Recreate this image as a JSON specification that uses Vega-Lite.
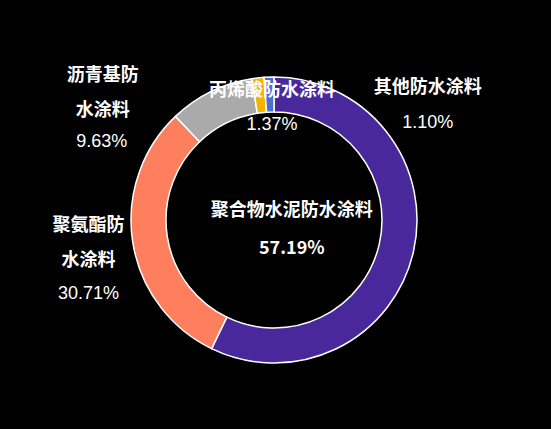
{
  "$schema": "https://vega.github.io/schema/vega-lite/v6.json",
  "width": 548,
  "height": 418,
  "padding": {"left": 0, "top": 11, "right": 3, "bottom": 0},
  "autosize": {"type": "none"},
  "background": "#000000",
  "view": {"stroke": null},
  "data": {
    "values": [
      {"name": "聚合物水泥防水涂料", "label": "聚合物水泥防水涂料", "pct": "57.19%", "value": 57.19, "order": 1},
      {"name": "聚氨酯防水涂料", "label": "聚氨酯防\n水涂料", "pct": "30.71%", "value": 30.71, "order": 2},
      {"name": "沥青基防水涂料", "label": "沥青基防\n水涂料", "pct": "9.63%", "value": 9.63, "order": 3},
      {"name": "丙烯酸防水涂料", "label": "丙烯酸防水涂料", "pct": "1.37%", "value": 1.37, "order": 4},
      {"name": "其他防水涂料", "label": "其他防水涂料", "pct": "1.10%", "value": 1.10, "order": 5}
    ]
  },
  "encoding": {
    "theta": {"field": "value", "type": "quantitative", "stack": true},
    "order": {"field": "order", "type": "quantitative"}
  },
  "layer": [
    {
      "mark": {"type": "arc", "outerRadius": 143, "innerRadius": 108, "stroke": "#ffffff", "strokeWidth": 1.5},
      "encoding": {
        "color": {
          "field": "name",
          "type": "nominal",
          "scale": {
            "domain": ["聚合物水泥防水涂料", "聚氨酯防水涂料", "沥青基防水涂料", "丙烯酸防水涂料", "其他防水涂料"],
            "range": ["#48289a", "#fe7f5d", "#aaaaaa", "#f5b301", "#4a6fd0"]
          },
          "legend": null
        }
      }
    },
    {
      "mark": {"type": "text", "radius": 125, "dx": -104, "dy": -37, "font": "Noto Sans CJK SC", "fontSize": 18, "fontWeight": "bold", "fill": "#ffffff", "align": "center", "baseline": "middle", "lineBreak": "\n", "lineHeight": 35},
      "encoding": {"text": {"condition": {"test": "datum.order === 1", "field": "label"}, "value": ""}}
    },
    {
      "mark": {"type": "text", "radius": 125, "dx": -104, "dy": 1, "font": "Noto Sans CJK SC", "fontSize": 18, "fontWeight": "bold", "fill": "#ffffff", "align": "center", "baseline": "middle"},
      "encoding": {"text": {"condition": {"test": "datum.order === 1", "field": "pct"}, "value": ""}}
    },
    {
      "mark": {"type": "text", "radius": 125, "dx": -62, "dy": -13, "font": "Noto Sans CJK SC", "fontSize": 18, "fontWeight": "bold", "fill": "#ffffff", "align": "center", "baseline": "middle", "lineBreak": "\n", "lineHeight": 35},
      "encoding": {"text": {"condition": {"test": "datum.order === 2", "field": "label"}, "value": ""}}
    },
    {
      "mark": {"type": "text", "radius": 125, "dx": -62, "dy": 55, "font": "Liberation Sans", "fontSize": 18, "fill": "#ffffff", "align": "center", "baseline": "middle"},
      "encoding": {"text": {"condition": {"test": "datum.order === 2", "field": "pct"}, "value": ""}}
    },
    {
      "mark": {"type": "text", "radius": 125, "dx": -116, "dy": -32, "font": "Noto Sans CJK SC", "fontSize": 18, "fontWeight": "bold", "fill": "#ffffff", "align": "center", "baseline": "middle", "lineBreak": "\n", "lineHeight": 35},
      "encoding": {"text": {"condition": {"test": "datum.order === 3", "field": "label"}, "value": ""}}
    },
    {
      "mark": {"type": "text", "radius": 125, "dx": -117, "dy": 34, "font": "Liberation Sans", "fontSize": 18, "fill": "#ffffff", "align": "center", "baseline": "middle"},
      "encoding": {"text": {"condition": {"test": "datum.order === 3", "field": "pct"}, "value": ""}}
    },
    {
      "mark": {"type": "text", "radius": 125, "dx": 12, "dy": -5, "font": "Noto Sans CJK SC", "fontSize": 18, "fontWeight": "bold", "fill": "#ffffff", "align": "center", "baseline": "middle"},
      "encoding": {"text": {"condition": {"test": "datum.order === 4", "field": "label"}, "value": ""}}
    },
    {
      "mark": {"type": "text", "radius": 125, "dx": 12, "dy": 29, "font": "Liberation Sans", "fontSize": 18, "fill": "#ffffff", "align": "center", "baseline": "middle"},
      "encoding": {"text": {"condition": {"test": "datum.order === 4", "field": "pct"}, "value": ""}}
    },
    {
      "mark": {"type": "text", "radius": 125, "dx": 158, "dy": -7, "font": "Noto Sans CJK SC", "fontSize": 18, "fontWeight": "bold", "fill": "#ffffff", "align": "center", "baseline": "middle"},
      "encoding": {"text": {"condition": {"test": "datum.order === 5", "field": "label"}, "value": ""}}
    },
    {
      "mark": {"type": "text", "radius": 125, "dx": 158, "dy": 28, "font": "Liberation Sans", "fontSize": 18, "fill": "#ffffff", "align": "center", "baseline": "middle"},
      "encoding": {"text": {"condition": {"test": "datum.order === 5", "field": "pct"}, "value": ""}}
    }
  ]
}
